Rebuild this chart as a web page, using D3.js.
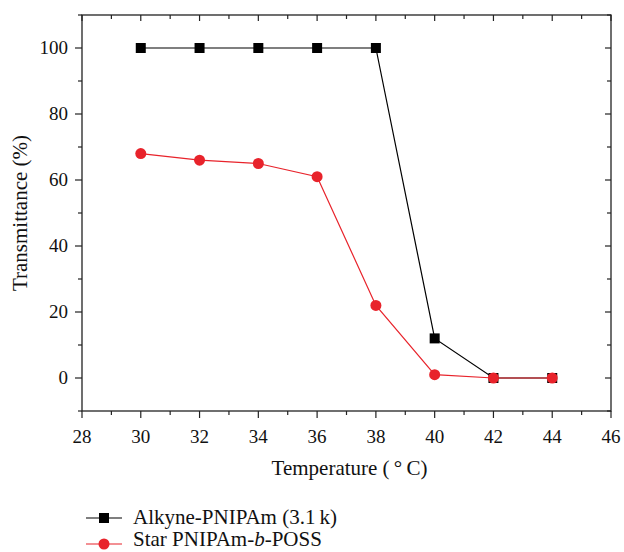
<!DOCTYPE html>
<html><head><meta charset="utf-8">
<script src="https://cdn.jsdelivr.net/npm/d3@7"></script>
<style>body{margin:0;background:#fff}svg{display:block}text{font-family:"Liberation Serif","Times New Roman","DejaVu Serif",serif;fill:#111}</style>
</head><body><svg id="c" width="624" height="552"></svg>
<script>
const temperatures = [30, 32, 34, 36, 38, 40, 42, 44];
const alkyneValues = [100, 100, 100, 100, 100, 12, 0, 0];
const starValues = [68, 66, 65, 61, 22, 1, 0, 0];
const seriesNames = ["Alkyne-PNIPAm (3.1\u2009k)", "Star PNIPAm-", "b", "-POSS"];
const xTicks = [28, 30, 32, 34, 36, 38, 40, 42, 44, 46];
const yTicks = [0, 20, 40, 60, 80, 100];

const svg = d3.select("#c");
const L = 82, R = 611, T = 15, B = 411;
const x = d3.scaleLinear().domain([28, 46]).range([L, R]);
const y = d3.scaleLinear().domain([-10, 110]).range([B, T]);
const xMinor = d3.range(29, 46, 2);
const yMinor = d3.range(-10, 111, 20);

svg.append("rect").attr("x", L).attr("y", T).attr("width", R - L).attr("height", B - T)
  .attr("fill", "none").attr("stroke", "#222").attr("stroke-width", 1.3);

const tk = svg.append("g").attr("stroke", "#222").attr("stroke-width", 1.2);
xTicks.forEach(v => tk.append("line").attr("x1", x(v)).attr("x2", x(v)).attr("y1", B).attr("y2", B + 7));
xMinor.forEach(v => tk.append("line").attr("x1", x(v)).attr("x2", x(v)).attr("y1", B).attr("y2", B + 4));
xTicks.forEach(v => tk.append("line").attr("x1", x(v)).attr("x2", x(v)).attr("y1", T).attr("y2", T + 6));
xMinor.forEach(v => tk.append("line").attr("x1", x(v)).attr("x2", x(v)).attr("y1", T).attr("y2", T + 4));
yTicks.forEach(v => tk.append("line").attr("y1", y(v)).attr("y2", y(v)).attr("x1", L).attr("x2", L - 7));
yMinor.forEach(v => tk.append("line").attr("y1", y(v)).attr("y2", y(v)).attr("x1", L).attr("x2", L - 4));
yTicks.forEach(v => tk.append("line").attr("y1", y(v)).attr("y2", y(v)).attr("x1", R).attr("x2", R - 6));
yMinor.forEach(v => tk.append("line").attr("y1", y(v)).attr("y2", y(v)).attr("x1", R).attr("x2", R - 4));

svg.append("g").selectAll("text").data(xTicks).join("text")
  .attr("x", d => x(d)).attr("y", B + 32).attr("text-anchor", "middle")
  .attr("font-size", 19).text(d => d);
svg.append("g").selectAll("text").data(yTicks).join("text")
  .attr("x", L - 14).attr("y", d => y(d) + 6).attr("text-anchor", "end")
  .attr("font-size", 19).text(d => d);

svg.append("text").attr("x", (L + R) / 2 + 3).attr("y", 475).attr("text-anchor", "middle")
  .attr("font-size", 21).text("Temperature (\u2009\u00B0\u2009C)");
svg.append("text").attr("transform", `translate(27,${(T + B) / 2}) rotate(-90)`)
  .attr("text-anchor", "middle").attr("font-size", 21).text("Transmittance (%)");

const line = d3.line().x(d => x(d[0])).y(d => y(d[1]));
const black = temperatures.map((t, i) => [t, alkyneValues[i]]);
const red = temperatures.map((t, i) => [t, starValues[i]]);
const redC = "#e8232b";

svg.append("path").attr("d", line(black)).attr("fill", "none").attr("stroke", "#000").attr("stroke-width", 1.2);
svg.append("path").attr("d", line(red)).attr("fill", "none").attr("stroke", redC).attr("stroke-width", 1.2);
svg.append("g").selectAll("rect").data(black).join("rect")
  .attr("x", d => x(d[0]) - 5).attr("y", d => y(d[1]) - 5).attr("width", 10).attr("height", 10).attr("fill", "#000");
svg.append("g").selectAll("circle").data(red).join("circle")
  .attr("cx", d => x(d[0])).attr("cy", d => y(d[1])).attr("r", 5.5).attr("fill", redC);

const lg = svg.append("g");
const ly1 = 518, ly2 = 544;
lg.append("line").attr("x1", 86).attr("x2", 122).attr("y1", ly1).attr("y2", ly1).attr("stroke", "#000").attr("stroke-width", 1.2);
lg.append("rect").attr("x", 99).attr("y", ly1 - 5).attr("width", 10).attr("height", 10).attr("fill", "#000");
lg.append("text").attr("x", 133).attr("y", ly1 + 6).attr("font-size", 21).text(seriesNames[0]);
lg.append("line").attr("x1", 86).attr("x2", 122).attr("y1", ly2).attr("y2", ly2).attr("stroke", redC).attr("stroke-width", 1.2);
lg.append("circle").attr("cx", 104).attr("cy", ly2).attr("r", 5.5).attr("fill", redC);
const t2 = lg.append("text").attr("x", 133).attr("y", ly2 + 2).attr("font-size", 21);
t2.append("tspan").text(seriesNames[1]);
t2.append("tspan").attr("font-style", "italic").text(seriesNames[2]);
t2.append("tspan").text(seriesNames[3]);
</script></body></html>
